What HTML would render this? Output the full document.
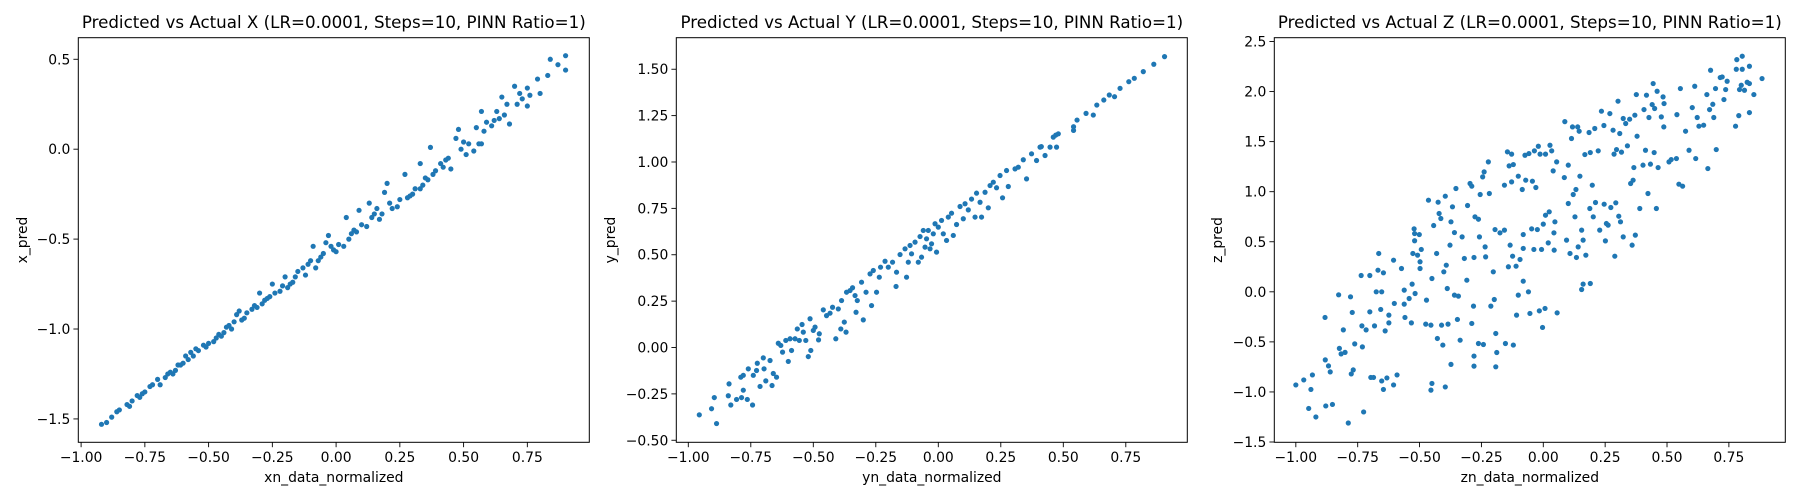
<!DOCTYPE html>
<html><head><meta charset="utf-8">
<style>
html,body{margin:0;padding:0;background:#fff;}
svg{display:block;font-family:"DejaVu Sans","Liberation Sans",sans-serif;}
</style></head>
<body>
<svg id="fig" width="1800" height="500" viewBox="0 0 1800 500" xmlns="http://www.w3.org/2000/svg"></svg>
<script>
// ---- Panel X data ----
const xX = [-0.92,-0.90,-0.88,-0.86,-0.85,-0.82,-0.81,-0.80,-0.78,-0.77,-0.76,-0.75,-0.73,-0.72,-0.70,-0.69,-0.67,-0.66,-0.65,-0.64,-0.63,-0.62,-0.61,-0.60,-0.59,-0.58,-0.57,-0.56,-0.55,-0.54,-0.52,-0.51,-0.50,-0.48,-0.47,-0.46,-0.45,-0.44,-0.43,-0.42,-0.41,-0.40,-0.39,-0.38,-0.37,-0.36,-0.35,-0.33,-0.32,-0.31,-0.30,-0.29,-0.28,-0.27,-0.26,-0.25,-0.24,-0.22,-0.21,-0.20,-0.19,-0.18,-0.17,-0.16,-0.15,-0.13,-0.12,-0.11,-0.10,-0.09,-0.08,-0.07,-0.06,-0.05,-0.04,-0.03,-0.02,-0.01,0.00,0.01,0.03,0.04,0.05,0.06,0.07,0.08,0.09,0.10,0.12,0.13,0.14,0.15,0.16,0.17,0.18,0.19,0.20,0.21,0.22,0.24,0.25,0.27,0.28,0.29,0.30,0.31,0.33,0.33,0.34,0.35,0.36,0.37,0.38,0.39,0.41,0.42,0.43,0.44,0.45,0.47,0.48,0.49,0.50,0.51,0.52,0.54,0.55,0.56,0.57,0.57,0.58,0.59,0.61,0.62,0.63,0.64,0.65,0.66,0.67,0.68,0.70,0.71,0.72,0.73,0.75,0.75,0.76,0.79,0.80,0.83,0.84,0.87,0.90,0.90];
const yX = [-1.53,-1.52,-1.49,-1.46,-1.45,-1.42,-1.43,-1.40,-1.37,-1.38,-1.36,-1.35,-1.32,-1.31,-1.28,-1.31,-1.27,-1.25,-1.24,-1.25,-1.23,-1.20,-1.20,-1.19,-1.15,-1.17,-1.13,-1.15,-1.11,-1.12,-1.09,-1.10,-1.08,-1.07,-1.05,-1.03,-1.04,-1.02,-0.99,-0.98,-1.00,-0.96,-0.92,-0.90,-0.95,-0.94,-0.91,-0.89,-0.87,-0.88,-0.80,-0.86,-0.84,-0.83,-0.82,-0.75,-0.80,-0.79,-0.76,-0.71,-0.77,-0.75,-0.74,-0.71,-0.68,-0.66,-0.70,-0.64,-0.62,-0.54,-0.66,-0.62,-0.60,-0.58,-0.52,-0.48,-0.54,-0.56,-0.57,-0.53,-0.54,-0.38,-0.50,-0.47,-0.45,-0.46,-0.34,-0.42,-0.43,-0.30,-0.38,-0.36,-0.33,-0.39,-0.36,-0.24,-0.19,-0.30,-0.33,-0.32,-0.28,-0.14,-0.27,-0.26,-0.25,-0.22,-0.08,-0.22,-0.20,-0.16,-0.17,0.01,-0.14,-0.12,-0.08,-0.10,-0.06,-0.05,-0.11,0.06,0.11,0.00,0.04,-0.03,0.03,-0.01,0.12,0.03,0.21,0.03,0.10,0.15,0.13,0.16,0.21,0.17,0.29,0.19,0.25,0.14,0.35,0.25,0.31,0.28,0.34,0.24,0.30,0.39,0.31,0.41,0.50,0.47,0.52,0.44];

// ---- Panel Y data ----
const xY = [-0.956,-0.907,-0.896,-0.887,-0.837,-0.84,-0.83,-0.807,-0.787,-0.79,-0.78,-0.78,-0.764,-0.76,-0.743,-0.74,-0.727,-0.724,-0.713,-0.70,-0.697,-0.69,-0.673,-0.665,-0.66,-0.647,-0.64,-0.63,-0.623,-0.61,-0.60,-0.593,-0.587,-0.573,-0.564,-0.556,-0.545,-0.54,-0.53,-0.52,-0.513,-0.51,-0.50,-0.493,-0.479,-0.476,-0.46,-0.447,-0.433,-0.423,-0.41,-0.40,-0.39,-0.387,-0.376,-0.369,-0.367,-0.353,-0.343,-0.333,-0.329,-0.324,-0.307,-0.30,-0.289,-0.273,-0.267,-0.26,-0.247,-0.236,-0.231,-0.213,-0.20,-0.183,-0.169,-0.167,-0.153,-0.133,-0.127,-0.12,-0.113,-0.107,-0.093,-0.08,-0.073,-0.067,-0.06,-0.053,-0.047,-0.04,-0.033,-0.027,-0.02,-0.013,-0.007,0.0,0.013,0.02,0.033,0.04,0.053,0.06,0.073,0.087,0.10,0.107,0.12,0.133,0.147,0.153,0.167,0.173,0.187,0.20,0.207,0.22,0.233,0.247,0.257,0.273,0.28,0.307,0.32,0.34,0.353,0.373,0.393,0.407,0.412,0.427,0.447,0.46,0.47,0.473,0.48,0.541,0.541,0.555,0.591,0.62,0.634,0.662,0.684,0.705,0.727,0.762,0.784,0.82,0.862,0.905];
const yY = [-0.363,-0.33,-0.27,-0.41,-0.196,-0.26,-0.31,-0.28,-0.27,-0.16,-0.15,-0.23,-0.28,-0.115,-0.31,-0.15,-0.124,-0.085,-0.21,-0.056,-0.115,-0.18,-0.07,-0.205,-0.14,-0.16,0.023,0.011,-0.025,0.038,-0.075,0.047,-0.016,0.047,0.10,0.038,0.124,0.083,0.038,-0.049,0.155,-0.016,0.092,0.11,0.041,0.074,0.203,0.172,0.185,0.217,0.047,0.208,0.10,0.253,0.137,0.083,0.298,0.307,0.322,0.28,0.19,0.253,0.352,0.149,0.298,0.397,0.226,0.415,0.298,0.379,0.433,0.465,0.433,0.46,0.329,0.406,0.501,0.532,0.379,0.46,0.55,0.505,0.568,0.46,0.598,0.487,0.631,0.541,0.586,0.631,0.532,0.559,0.613,0.667,0.514,0.649,0.685,0.613,0.577,0.703,0.724,0.604,0.663,0.76,0.694,0.775,0.742,0.80,0.703,0.832,0.783,0.703,0.837,0.753,0.873,0.891,0.861,0.927,0.807,0.954,0.868,0.963,0.972,1.012,0.909,1.044,1.008,1.08,1.083,1.035,1.08,1.134,1.145,1.08,1.152,1.19,1.17,1.226,1.262,1.253,1.307,1.334,1.361,1.352,1.397,1.433,1.451,1.487,1.527,1.568];

// ---- Panel Z data ----
const xZ = [-1.0,-0.968,-0.948,-0.939,-0.933,-0.919,-0.882,-0.881,-0.879,-0.868,-0.861,-0.852,-0.827,-0.824,-0.817,-0.808,-0.801,-0.788,-0.779,-0.776,-0.772,-0.768,-0.762,-0.736,-0.733,-0.731,-0.726,-0.716,-0.701,-0.701,-0.697,-0.686,-0.682,-0.675,-0.668,-0.665,-0.657,-0.653,-0.653,-0.646,-0.646,-0.639,-0.632,-0.624,-0.624,-0.605,-0.605,-0.602,-0.591,-0.573,-0.562,-0.562,-0.559,-0.542,-0.533,-0.530,-0.527,-0.522,-0.52,-0.52,-0.518,-0.508,-0.501,-0.498,-0.498,-0.493,-0.475,-0.472,-0.464,-0.454,-0.454,-0.45,-0.45,-0.443,-0.431,-0.428,-0.425,-0.421,-0.414,-0.411,-0.406,-0.402,-0.396,-0.396,-0.392,-0.388,-0.385,-0.377,-0.373,-0.373,
-0.367,-0.359,-0.359,-0.353,-0.347,-0.343,-0.336,-0.328,-0.319,-0.309,-0.306,-0.296,-0.289,-0.289,-0.282,-0.28,-0.28,-0.28,-0.276,-0.262,-0.262,-0.258,-0.255,-0.245,-0.242,-0.239,-0.235,-0.233,-0.222,-0.218,-0.212,-0.202,-0.198,-0.195,-0.192,-0.188,-0.192,-0.175,-0.157,-0.157,-0.153,-0.145,-0.141,-0.138,-0.134,-0.128,-0.128,-0.124,-0.121,-0.121,-0.11,-0.108,-0.101,-0.101,-0.094,-0.085,-0.081,-0.081,-0.081,-0.074,-0.071,-0.06,-0.058,-0.054,-0.047,-0.044,-0.038,-0.036,-0.03,-0.024,-0.02,-0.016,-0.013,-0.007,-0.003,0.0,0.007,0.009,0.009,0.02,0.024,0.027,0.034,0.04,0.043,0.044,0.047,0.054,0.056,0.085,0.087,0.094,0.101,0.101,0.108,0.114,0.118,0.121,0.128,0.132,0.134,0.139,0.141,0.145,0.148,0.155,0.155,0.161,0.161,0.168,0.172,0.185,0.188,0.19,0.19,0.198,0.202,0.208,0.211,0.222,0.228,0.235,0.245,0.246,0.251,0.255,0.262,0.269,0.273,0.282,0.286,0.289,0.293,0.296,0.302,0.305,0.309,0.312,0.316,0.323,0.323,0.333,0.34,0.349,0.353,0.359,0.363,0.366,0.37,0.372,0.376,0.379,0.39,0.403,0.407,0.413,0.417,0.423,0.427,0.433,0.44,0.444,0.448,0.45,0.457,0.46,0.464,0.477,0.484,0.487,0.488,0.508,0.517,0.538,0.54,0.548,0.554,0.563,0.575,0.589,0.602,0.612,0.616,0.622,0.629,0.648,0.661,0.665,0.672,0.676,0.685,0.689,0.696,0.699,0.715,0.723,0.73,0.737,0.743,0.777,0.78,0.782,0.79,0.793,0.8,0.804,0.804,0.813,0.824,0.833,0.833,0.833,0.851,0.884];
const yZ = [-0.93,-0.88,-1.165,-0.975,-0.83,-1.25,-0.256,-0.68,-1.14,-0.74,-0.8,-1.125,-0.03,-0.565,-0.62,-0.38,-0.605,-1.31,-0.05,-0.82,-0.206,-0.78,-0.52,0.163,-0.34,-0.55,-1.2,-0.38,0.163,-0.2,-0.855,-0.855,-0.34,0.0,0.216,0.383,-0.176,0.0,-0.89,0.19,-0.975,-0.39,-0.86,-0.233,-0.31,0.316,-0.93,-0.116,-0.83,0.233,0.017,-0.123,-0.256,-0.067,-0.31,0.077,0.383,0.629,0.582,0.51,-0.017,0.366,0.572,0.3,0.233,0.423,-0.323,-0.083,0.915,-0.333,-0.982,0.133,-0.915,0.662,0.383,-0.466,0.895,0.782,0.732,-0.333,-0.532,0.2,0.955,-0.95,0.266,0.033,-0.323,0.466,0.699,-0.725,
0.849,0.592,-0.033,1.032,-0.276,-0.043,-0.483,0.549,0.333,0.116,0.862,1.082,1.055,-0.316,-0.143,-0.642,0.343,-0.742,0.749,0.725,-0.516,0.549,0.972,1.148,-0.526,1.198,0.449,0.349,1.298,0.982,-0.143,0.2,-0.077,0.622,-0.416,-0.606,-0.749,0.589,0.616,1.065,-0.516,1.398,0.25,1.258,0.466,1.375,1.098,0.356,1.271,-0.532,0.256,-0.233,-0.033,1.155,0.323,1.022,0.572,0.433,0.106,1.364,1.115,0.0,1.381,-0.216,0.629,1.105,0.423,1.408,1.042,0.622,1.454,-0.19,1.375,0.423,-0.356,0.676,-0.166,1.375,0.765,0.489,0.799,1.464,1.408,1.208,0.589,0.416,0.699,1.298,-0.21,1.141,1.7,0.516,1.265,0.882,0.383,1.531,1.647,0.972,0.749,1.022,0.343,1.647,0.449,1.604,1.155,0.616,0.023,0.077,0.516,1.371,0.366,1.591,0.832,1.391,0.083,1.065,0.749,1.631,0.892,1.408,0.616,1.804,1.661,0.875,0.509,0.682,0.666,1.78,0.842,1.614,1.375,0.356,0.889,1.421,1.904,0.755,1.581,0.699,1.395,1.731,0.549,1.681,1.458,1.724,1.082,0.466,1.115,1.241,1.764,0.566,1.97,1.554,0.832,1.265,1.82,1.414,1.964,0.982,1.741,1.275,1.87,2.08,1.391,1.831,0.832,2.003,1.241,1.747,1.947,1.647,1.88,1.298,1.321,1.331,1.77,1.075,2.03,1.055,1.604,1.414,1.84,2.053,1.331,1.741,1.654,1.664,1.97,1.231,1.82,2.213,1.873,1.741,2.03,1.421,2.14,2.146,1.92,2.02,2.103,1.654,2.223,2.319,1.76,2.02,2.063,2.223,2.353,2.013,2.093,2.253,1.79,2.08,1.97,2.13];

// ---- Tick labels ----
const xTicks = [-1.0,-0.75,-0.5,-0.25,0.0,0.25,0.5,0.75];
const yTicksX = [-1.5,-1.0,-0.5,0.0,0.5];
const yTicksY = [-0.5,-0.25,0.0,0.25,0.5,0.75,1.0,1.25,1.5];
const yTicksZ = [-1.5,-1.0,-0.5,0.0,0.5,1.0,1.5,2.0,2.5];

const NS = "http://www.w3.org/2000/svg";
const fig = document.getElementById('fig');
function mk(tag, attrs, parent){
  const e = document.createElementNS(NS, tag);
  for (const k in attrs) e.setAttribute(k, attrs[k]);
  parent.appendChild(e);
  return e;
}
function fmt(v, d){ const s = Math.abs(v).toFixed(d); return (v < -1e-9 ? '\u2212' : '') + s; }

const panels = [
  {key:'x', left:78.3, xs:xX, ys:yX, xdom:[-1.011,0.993], ydom:[-1.63,0.62], yt:yTicksX, yd:1,
   title:'Predicted vs Actual X (LR=0.0001, Steps=10, PINN Ratio=1)', xl:'xn_data_normalized', yl:'x_pred', ylx:22},
  {key:'y', left:676.3, xs:xY, ys:yY, xdom:[-1.048,0.996], ydom:[-0.511,1.67], yt:yTicksY, yd:2,
   title:'Predicted vs Actual Y (LR=0.0001, Steps=10, PINN Ratio=1)', xl:'yn_data_normalized', yl:'y_pred', ylx:610},
  {key:'z', left:1274.3, xs:xZ, ys:yZ, xdom:[-1.087,0.978], ydom:[-1.503,2.538], yt:yTicksZ, yd:1,
   title:'Predicted vs Actual Z (LR=0.0001, Steps=10, PINN Ratio=1)', xl:'zn_data_normalized', yl:'z_pred', ylx:1217}
];
const W = 511, TOP = 37.7, BOT = 442.3;

panels.forEach(p => {
  const g = mk('g', {}, fig);
  
  
  const sx = v => p.left + (v - p.xdom[0]) / (p.xdom[1] - p.xdom[0]) * W;
  const sy = v => BOT - (v - p.ydom[0]) / (p.ydom[1] - p.ydom[0]) * (BOT - TOP);

  // points
  const pts = mk('g', {fill:'#1f77b4'}, g);
  
  
  for (let i = 0; i < p.xs.length; i++) {
    const c = mk('circle', {cx:sx(p.xs[i]).toFixed(2), cy:sy(p.ys[i]).toFixed(2), r:2.6}, pts);
    
    
  }

  // frame
  const fr = mk('rect', {x:p.left, y:TOP, width:W, height:BOT-TOP, fill:'none', stroke:'#000', 'stroke-width':1}, g);
  
  

  // x ticks
  xTicks.forEach(t => {
    const x = sx(t);
    mk('line', {x1:x, x2:x, y1:BOT, y2:BOT+4.9, stroke:'#000', 'stroke-width':0.9}, g);
    const tx = mk('text', {x:x, y:BOT+19.5, 'font-size':13.9, 'text-anchor':'middle', fill:'#000'}, g);
    tx.textContent = fmt(t, 2);
    
    
  });
  // y ticks
  p.yt.forEach(t => {
    const y = sy(t);
    mk('line', {x1:p.left-4.9, x2:p.left, y1:y, y2:y, stroke:'#000', 'stroke-width':0.9}, g);
    const ty = mk('text', {x:p.left-8, y:y+5, 'font-size':13.9, 'text-anchor':'end', fill:'#000'}, g);
    ty.textContent = fmt(t, p.yd);
    
    
  });

  const ti = mk('text', {x:p.left + W/2, y:28, 'font-size':16.7, 'text-anchor':'middle', fill:'#000'}, g);
  ti.textContent = p.title;
  
  

  const xl = mk('text', {x:p.left + W/2, y:482, 'font-size':13.9, 'text-anchor':'middle', fill:'#000'}, g);
  xl.textContent = p.xl;
  
  

  const yl = mk('text', {x:0, y:0, 'font-size':13.9, 'text-anchor':'middle', fill:'#000',
    transform:'translate(' + (p.ylx + 5) + ',' + ((TOP+BOT)/2) + ') rotate(-90)'}, g);
  yl.textContent = p.yl;
  
  
});
</script>
</body></html>
